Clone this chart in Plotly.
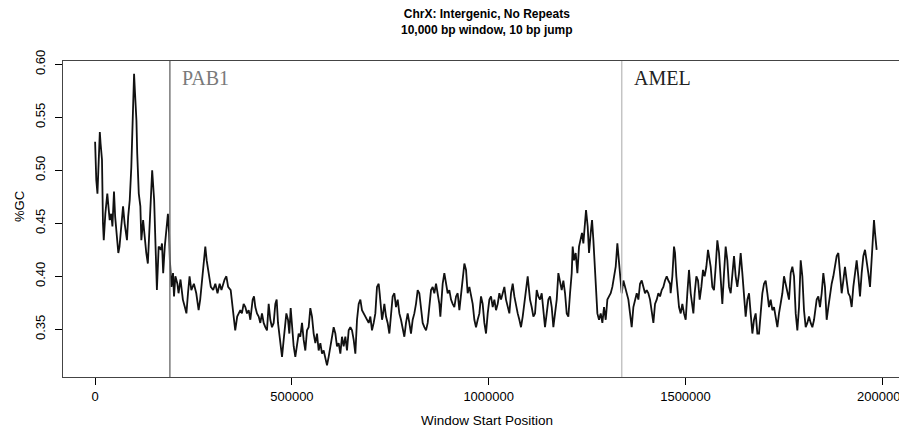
import plotly.graph_objects as go

title_lines = ["ChrX: Intergenic, No Repeats", "10,000 bp window, 10 bp jump"]
x_title = "Window Start Position"
y_title = "%GC"

x_ticks = [0, 500000, 1000000, 1500000, 2000000]
y_ticks = [0.35, 0.40, 0.45, 0.50, 0.55, 0.60]

marker_names = ["PAB1", "AMEL"]
marker_pos = [190000, 1338000]

window_start_kb = [
    0, 1, 3, 6, 12, 14, 17.5, 20, 22, 26, 31, 37, 41, 44, 48, 51, 56.5, 59, 62, 67,
    71, 75, 81, 84, 88, 92, 95.5, 99, 101, 105, 107, 111, 115, 117.5, 122, 126, 130, 134, 137, 141,
    145, 150, 154, 157, 161.5, 167, 170, 173, 177, 181, 185, 188, 190, 194, 198, 200.5, 204, 209, 212, 217,
    223, 228, 232, 236, 240, 244.5, 251, 257, 263, 267, 272.5, 277, 280, 283.5, 289, 294, 300, 305.5, 311, 316.5,
    321, 329, 333.5, 338, 344.5, 349, 353, 356, 361,
    364.7, 369, 373, 377.4, 381.7, 385.9, 390.2, 394.4, 400.3, 403.7, 407.1, 411.3, 415.6, 419.8, 424, 428.3,
    432.5, 436.7, 441, 445.2, 449.4, 453.7, 457.9, 461.3, 464.7, 468.1, 471.5, 474.9, 479.1, 483.3, 485.9, 490.1,
    493.5, 496.9, 500.2, 504.5, 508.7, 513, 517.2, 521.4, 525.7, 529.9, 534.1, 538.4, 542.6, 546.8, 551.1, 555.3,
    559.6, 563.8, 568, 572.3, 576.5, 580.7, 585, 589.2, 593.4, 597.7, 601.9, 606.1, 610.4, 614.6, 618.8, 623.1,
    627.3, 631.5, 635.8, 640, 644.3, 648.5, 652.7, 657, 661.2, 665.4, 669.7, 673.9, 678.1, 682.4, 686.6, 690.8,
    695.1, 699.3, 703.5, 707.8, 712, 716.2, 720.5, 723, 726.4, 729,
    730.6, 734.9, 739.1, 743.3, 747.6, 751.8, 756, 760.3, 764.5, 768.8, 773, 777.2, 781.5, 785.7, 789.9, 794.2,
    798.4, 802.6, 806.9, 811.1, 815.3, 819.6, 823.8, 828, 832.3, 836.5, 840.8, 845, 849.2, 853.5, 857.7, 861.9,
    866.2, 870.4, 874.6, 877.2, 880.6, 883.1, 887.3, 891.6, 895.8, 900, 904.3, 908.5, 912.7, 917, 921.2, 925.5,
    929.7, 933.9, 938.2, 942.4, 946.6, 950.9, 955.1, 959.3, 963.6, 967.8, 972, 976.3, 980.5, 984.7, 989, 993.2,
    997.5, 1001.7, 1005.9, 1010.2, 1014.4, 1018.6, 1022.9, 1027.1, 1031.3, 1035.6, 1039.8, 1044, 1048.3, 1052.5,
    1056.7, 1061, 1065.2, 1069.4, 1073.7, 1077.9, 1082.1, 1086.4, 1090.6, 1094.8,
    1096.5, 1099.1, 1102.5, 1105, 1109.2, 1113.5, 1117.7, 1122, 1126.2, 1130.4, 1134.7, 1138.9, 1143.1, 1147.4,
    1151.6, 1155.8, 1160.1, 1164.3, 1168.5, 1172.8, 1177, 1181.2, 1185.5, 1189.7, 1194, 1198.2, 1202.4, 1206.7,
    1210.9, 1213.4, 1216.8, 1221, 1225.3, 1229.5, 1233.8, 1237.1, 1240.5, 1244.8, 1247.3, 1251.5, 1254.9, 1259.2,
    1262.6, 1266, 1270.2, 1272.7, 1276.1, 1280.3, 1284.6, 1288.8, 1293, 1297.3, 1301.5, 1305.7, 1310, 1314.2,
    1318.5, 1322.7, 1326.9, 1330.3, 1333.7, 1338, 1342.2, 1346.4, 1350.6, 1354.9, 1359.1, 1363.3, 1367.6, 1371.8,
    1376.1, 1380.3, 1384.5, 1388.8, 1393, 1397.2, 1401.5, 1405.7, 1409.9, 1414.2, 1418.4, 1422.6, 1426.9, 1431.1,
    1435.3, 1439.6, 1443.8, 1448, 1452.3, 1456.5, 1460.8,
    1462.3, 1466.6, 1470.8, 1473.4, 1476.7, 1479.3, 1483.5, 1487.8, 1492, 1496.2, 1500.5, 1504.7, 1508.9, 1513.2,
    1517.4, 1520, 1523.3, 1527.6, 1531.8, 1536, 1540.3, 1544.5, 1548.7, 1553, 1557.2, 1559.7, 1564, 1568.2,
    1572.4, 1576.7, 1580.9, 1585.2, 1589.4, 1593.6, 1597.9, 1602.1, 1606.3, 1610.6, 1614.8, 1619, 1623.3, 1627.5,
    1631.7, 1636, 1640.2, 1644.4, 1648.7, 1652.9, 1657.2, 1661.4, 1665.6, 1669.9, 1674.1, 1678.3, 1682.6, 1686.8,
    1691, 1695.3, 1699.5, 1703.7, 1708, 1712.2, 1716.4, 1720.7, 1724.9, 1729.1, 1733.4, 1737.6, 1741.9, 1746.1,
    1750.3, 1754.6, 1758.8, 1763, 1767.3, 1771.5, 1775.7, 1780, 1784.2, 1788.4, 1792.7, 1796.9, 1801.1, 1805.4,
    1809.6, 1813.8, 1818.1, 1822.3, 1826.6,
    1829, 1833.3, 1837.5, 1841.7, 1846, 1850.2, 1854.4, 1858.7, 1862.9, 1867.1, 1871.4, 1875.6, 1879.8, 1884.1,
    1888.3, 1892.5, 1896.8, 1901, 1905.2, 1909.5, 1913.7, 1917.9, 1922.2, 1926.4, 1930.7, 1934.9, 1939.1, 1943.4,
    1947.6, 1951.8, 1956.1, 1960.3, 1964.5, 1968.8, 1973, 1975.5, 1978.9, 1981.5, 1984, 1985.7,
]

gc_fraction = [
    0.527, 0.510, 0.491, 0.478, 0.536, 0.525, 0.510, 0.450, 0.434, 0.459, 0.478, 0.453, 0.459, 0.447, 0.480, 0.456, 0.434, 0.422, 0.428, 0.447,
    0.466, 0.450, 0.434, 0.456, 0.472, 0.503, 0.547, 0.591, 0.576, 0.547, 0.516, 0.478, 0.466, 0.434, 0.453, 0.434, 0.422, 0.412, 0.437, 0.469,
    0.500, 0.472, 0.428, 0.387, 0.428, 0.425, 0.431, 0.403, 0.428, 0.447, 0.459, 0.441, 0.415, 0.390, 0.403, 0.381, 0.400, 0.393, 0.384, 0.397,
    0.378, 0.371, 0.365, 0.384, 0.400, 0.387, 0.393, 0.384, 0.368, 0.378, 0.397, 0.415, 0.428, 0.415, 0.403, 0.390, 0.387, 0.393, 0.384, 0.393,
    0.387, 0.397, 0.400, 0.390, 0.387, 0.371, 0.356, 0.349, 0.362,
    0.365, 0.368, 0.365, 0.374, 0.371, 0.365, 0.368, 0.359, 0.378, 0.381, 0.371, 0.365, 0.362, 0.356, 0.365, 0.356,
    0.352, 0.349, 0.374, 0.359, 0.352, 0.356, 0.374, 0.378, 0.356, 0.343, 0.330, 0.324, 0.340, 0.356, 0.365, 0.359,
    0.346, 0.370, 0.352, 0.334, 0.324, 0.337, 0.346, 0.343, 0.356, 0.340, 0.330, 0.349, 0.352, 0.370, 0.362, 0.346,
    0.337, 0.346, 0.330, 0.337, 0.327, 0.330, 0.324, 0.316, 0.324, 0.334, 0.340, 0.352, 0.346, 0.334, 0.337, 0.327,
    0.343, 0.334, 0.343, 0.330, 0.349, 0.352, 0.349, 0.340, 0.327, 0.359, 0.374, 0.378, 0.368, 0.365, 0.362, 0.359,
    0.356, 0.362, 0.349, 0.356, 0.365, 0.390, 0.393, 0.384, 0.365, 0.359,
    0.362, 0.374, 0.362, 0.356, 0.346, 0.365, 0.381, 0.384, 0.371, 0.378, 0.365, 0.359, 0.352, 0.343, 0.356, 0.365,
    0.356, 0.346, 0.359, 0.365, 0.374, 0.387, 0.384, 0.371, 0.356, 0.352, 0.349, 0.356, 0.374, 0.387, 0.390, 0.384,
    0.393, 0.384, 0.374, 0.362, 0.384, 0.393, 0.403, 0.393, 0.384, 0.387, 0.378, 0.374, 0.371, 0.381, 0.384, 0.368,
    0.384, 0.397, 0.412, 0.406, 0.384, 0.390, 0.381, 0.374, 0.359, 0.352, 0.359, 0.365, 0.381, 0.374, 0.356, 0.346,
    0.365, 0.378, 0.381, 0.371, 0.378, 0.368, 0.374, 0.384, 0.378, 0.384, 0.390, 0.378, 0.371, 0.365,
    0.384, 0.393, 0.381, 0.371, 0.365, 0.359, 0.352, 0.362, 0.374, 0.390,
    0.393, 0.400, 0.387, 0.378, 0.371, 0.362, 0.365, 0.387, 0.381, 0.378, 0.384, 0.365, 0.352, 0.365,
    0.378, 0.381, 0.371, 0.352, 0.365, 0.378, 0.403, 0.396, 0.387, 0.396, 0.384, 0.365, 0.362, 0.384,
    0.403, 0.428, 0.415, 0.422, 0.403, 0.428, 0.434, 0.441, 0.431, 0.453, 0.4625, 0.447, 0.422, 0.441,
    0.453, 0.434, 0.406, 0.384, 0.365, 0.359, 0.365, 0.356, 0.371, 0.359, 0.378, 0.381, 0.384, 0.390,
    0.400, 0.409, 0.431, 0.415, 0.403, 0.384, 0.396, 0.390, 0.384, 0.378, 0.365, 0.352, 0.371, 0.378,
    0.384, 0.378, 0.393, 0.396, 0.390, 0.384, 0.387, 0.384, 0.378, 0.365, 0.356, 0.374, 0.378, 0.384,
    0.381, 0.387, 0.390, 0.396, 0.400, 0.396, 0.393,
    0.384, 0.400, 0.428, 0.422, 0.400, 0.387, 0.371, 0.365, 0.374, 0.365, 0.359, 0.384, 0.406, 0.384,
    0.374, 0.365, 0.384, 0.400, 0.396, 0.378, 0.390, 0.406, 0.400, 0.409, 0.425, 0.419, 0.409, 0.390,
    0.387, 0.409, 0.434, 0.422, 0.396, 0.374, 0.403, 0.428, 0.415, 0.390, 0.384, 0.403, 0.419, 0.400,
    0.390, 0.403, 0.422, 0.403, 0.384, 0.362, 0.378, 0.384, 0.365, 0.346, 0.359, 0.365, 0.346, 0.346,
    0.365, 0.384, 0.393, 0.396, 0.384, 0.371, 0.378, 0.368, 0.371, 0.362, 0.352, 0.365, 0.374, 0.384,
    0.400, 0.393, 0.384, 0.378, 0.403, 0.409, 0.400, 0.365, 0.349, 0.371, 0.415, 0.400, 0.368, 0.352,
    0.356, 0.362, 0.356, 0.352, 0.359,
    0.365, 0.378, 0.381, 0.371, 0.384, 0.403, 0.390, 0.359, 0.371, 0.384, 0.393, 0.400, 0.409, 0.419,
    0.422, 0.403, 0.384, 0.396, 0.409, 0.396, 0.384, 0.381, 0.371, 0.390, 0.406, 0.415, 0.400, 0.381,
    0.403, 0.419, 0.425, 0.415, 0.403, 0.390, 0.415, 0.437, 0.453, 0.441, 0.428, 0.425,
]

window_start = [k * 1000 for k in window_start_kb]

SANS = "Liberation Sans, Arial, sans-serif"
SERIF = "Liberation Serif, Times New Roman, serif"

fig = go.Figure()
fig.add_trace(go.Scatter(
    x=window_start, y=gc_fraction, mode="lines",
    line=dict(color="#111111", width=1.8), showlegend=False, hoverinfo="skip",
))

line_colors = ["#7a7a7a", "#c4c4c4"]
text_colors = ["#7a7a7a", "#222222"]
for name, pos, lc, tc in zip(marker_names, marker_pos, line_colors, text_colors):
    fig.add_shape(type="line", xref="x", yref="paper", x0=pos, x1=pos, y0=0, y1=1,
                  line=dict(color=lc, width=1.5))
    fig.add_annotation(x=pos, xref="x", xshift=10, y=0.946, yref="paper",
                       text=name, showarrow=False, xanchor="left", yanchor="middle",
                       font=dict(family=SERIF, size=20, color=tc))

fig.add_annotation(text="<b>" + title_lines[0] + "</b><br><b>" + title_lines[1] + "</b>",
                   xref="paper", yref="paper", x=0.5, y=1.0, yshift=56, xanchor="center",
                   yanchor="top", showarrow=False,
                   font=dict(family=SANS, size=12, color="#000000"))
fig.add_annotation(text=x_title, xref="paper", yref="paper", x=0.5, y=0, yshift=-43,
                   xanchor="center", yanchor="middle", showarrow=False,
                   font=dict(family=SANS, size=13.5, color="#000000"))
fig.add_annotation(text=y_title, xref="paper", yref="paper", x=0, xshift=-43, y=0.538,
                   xanchor="center", yanchor="middle", showarrow=False, textangle=-90,
                   font=dict(family=SANS, size=13, color="#000000"))

# The page body adds an 8 px offset, so the figure is sized/margined to land the
# plot box at page x 63..910 and y 61..377.
fig.update_layout(
    width=902, height=425,
    margin=dict(l=55, r=0, t=53, b=56, pad=0),
    paper_bgcolor="white", plot_bgcolor="white",
    font=dict(family=SANS, size=13, color="#000000"),
    xaxis=dict(range=[-81560, 2070400], tickvals=x_ticks, ticktext=[str(v) for v in x_ticks],
               ticks="outside", ticklen=7, tickcolor="#000000", tickwidth=1,
               showline=True, mirror=True, linecolor="#444444", linewidth=1.2,
               showgrid=False, zeroline=False, tickfont=dict(size=13), automargin=False),
    yaxis=dict(range=[0.305, 0.6031], tickvals=y_ticks, ticktext=["%.2f" % v for v in y_ticks],
               ticks="outside", ticklen=7, tickcolor="#000000", tickwidth=1, tickangle=-90,
               showline=True, mirror=False, linecolor="#444444", linewidth=1.2,
               showgrid=False, zeroline=False, tickfont=dict(size=13), automargin=False,
               ticklabelstandoff=5),
)

fig.write_html("out.html")
